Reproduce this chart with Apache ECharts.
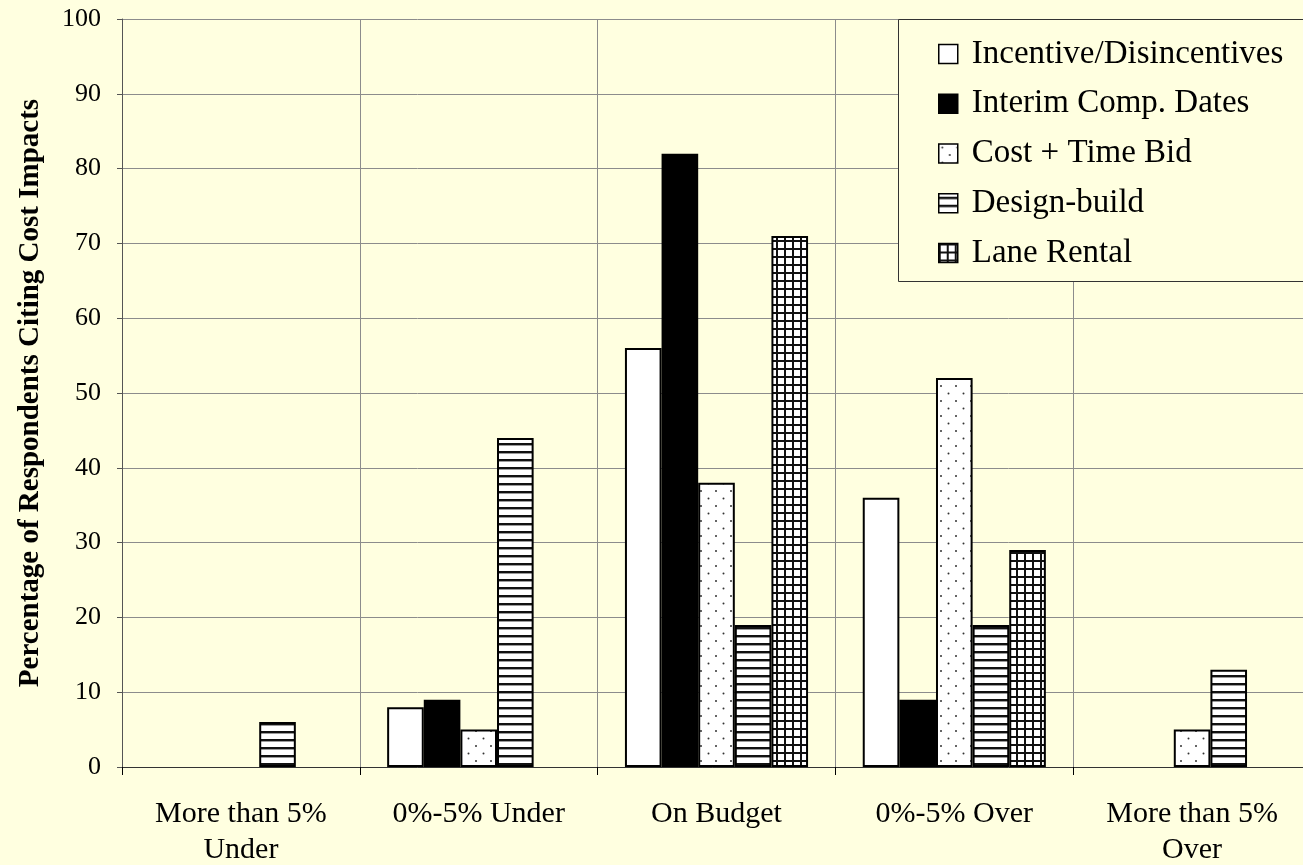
<!DOCTYPE html>
<html>
<head>
<meta charset="utf-8">
<script src="https://cdn.jsdelivr.net/npm/echarts@6/dist/echarts.min.js"></script>
<style>
  html, body { margin: 0; padding: 0; background: #FFFFE0; overflow: hidden; }
  #chart { width: 1303px; height: 865px; }
</style>
</head>
<body>
<div id="chart"></div>
<script>
// Budget outcome buckets along the x axis
const categories = ['More than 5%\nUnder', '0%-5% Under', 'On Budget', '0%-5% Over', 'More than 5%\nOver'];

// Contracting methods (one bar series each)
const seriesNames = ['Incentive/Disincentives', 'Interim Comp. Dates', 'Cost + Time Bid', 'Design-build', 'Lane Rental'];

// Percentage of respondents in each bucket
const incentiveDisincentives = [0, 8, 56, 36, 0];
const interimCompDates       = [0, 9, 82, 9, 0];
const costTimeBid            = [0, 5, 38, 52, 5];
const designBuild            = [6, 44, 19, 19, 13];
const laneRental             = [0, 0, 71, 29, 0];

// Value axis range
const yMin = 0, yMax = 100, yStep = 10;

const FONT = '"Liberation Serif", "Times New Roman", serif';
const BG = '#FFFFE0';

// Small repeating canvas tiles used as hatch fills
function tile(w, h, draw) {
  const c = document.createElement('canvas');
  c.width = w; c.height = h;
  const g = c.getContext('2d');
  g.fillStyle = '#ffffff';
  g.fillRect(0, 0, w, h);
  draw(g);
  return { image: c, repeat: 'repeat' };
}

const dotFill = tile(15, 15, g => {
  g.fillStyle = '#333';
  g.beginPath(); g.arc(3.5, 3.5, 1, 0, Math.PI * 2); g.fill();
  g.beginPath(); g.arc(11, 11, 1, 0, Math.PI * 2); g.fill();
});
const hLineFill = tile(8, 8, g => {
  g.fillStyle = '#111';
  g.fillRect(0, 3, 8, 2);
  g.fillStyle = '#9a9a9a';
  g.fillRect(0, 5, 8, 1);
});
const gridFill = tile(8, 8, g => {
  g.fillStyle = '#111';
  g.fillRect(0, 0, 8, 2);
  g.fillRect(0, 0, 2, 8);
});

const fills = ['#ffffff', '#000000', dotFill, hLineFill, gridFill];
const values = [incentiveDisincentives, interimCompDates, costTimeBid, designBuild, laneRental];

// Zero responses draw no bar
const toBars = arr => arr.map(v => (v === 0 ? '-' : v));

const series = seriesNames.map((name, i) => ({
  name: name,
  type: 'bar',
  data: toBars(values[i]),
  barGap: '0%',
  barCategoryGap: '23%',
  itemStyle: { color: fills[i], borderColor: '#000', borderWidth: 2 }
}));

const chart = echarts.init(document.getElementById('chart'), null, { renderer: 'canvas' });
chart.setOption({
  animation: false,
  backgroundColor: BG,
  // plot area runs slightly past the right edge of the canvas
  grid: { left: 122, top: 19, width: 1189, bottom: 98, outerBoundsMode: 'none', containLabel: false },
  // legend frame, open past the right edge
  graphic: [{
    type: 'rect',
    z: 3,
    shape: { x: 898.5, y: 19.5, width: 430, height: 262 },
    style: { fill: BG, stroke: '#333', lineWidth: 1 }
  }],
  legend: {
    orient: 'vertical',
    left: 898,
    top: 19,
    padding: [18.5, 40, 13.5, 40],
    itemWidth: 19,
    itemHeight: 19,
    itemGap: 16.75,
    icon: 'rect',
    itemStyle: { borderColor: '#000', borderWidth: 1.5 },
    textStyle: { fontFamily: FONT, fontSize: 33, lineHeight: 33, color: '#000', padding: [0, 0, 0, 9] },
    data: seriesNames
  },
  xAxis: {
    type: 'category',
    data: categories,
    boundaryGap: true,
    axisLine: { lineStyle: { color: '#333', width: 1 } },
    axisTick: { show: true, length: 8, lineStyle: { color: '#000' } },
    splitLine: { show: true, lineStyle: { color: '#8c8c8c', width: 1 } },
    axisLabel: {
      interval: 0,
      margin: 29,
      fontFamily: FONT,
      fontSize: 30,
      lineHeight: 36,
      color: '#000'
    }
  },
  yAxis: {
    type: 'value',
    min: yMin,
    max: yMax,
    interval: yStep,
    name: 'Percentage of Respondents Citing Cost Impacts',
    nameLocation: 'middle',
    nameGap: 77,
    nameTextStyle: { fontFamily: FONT, fontSize: 29, fontWeight: 'bold', color: '#000' },
    axisLine: { show: true, lineStyle: { color: '#555', width: 1 } },
    axisTick: { show: true, length: 5, lineStyle: { color: '#555' } },
    splitLine: { show: true, lineStyle: { color: '#8c8c8c', width: 1 } },
    axisLabel: { margin: 21, fontFamily: FONT, fontSize: 26, color: '#000' }
  },
  series: series
});
</script>
</body>
</html>
